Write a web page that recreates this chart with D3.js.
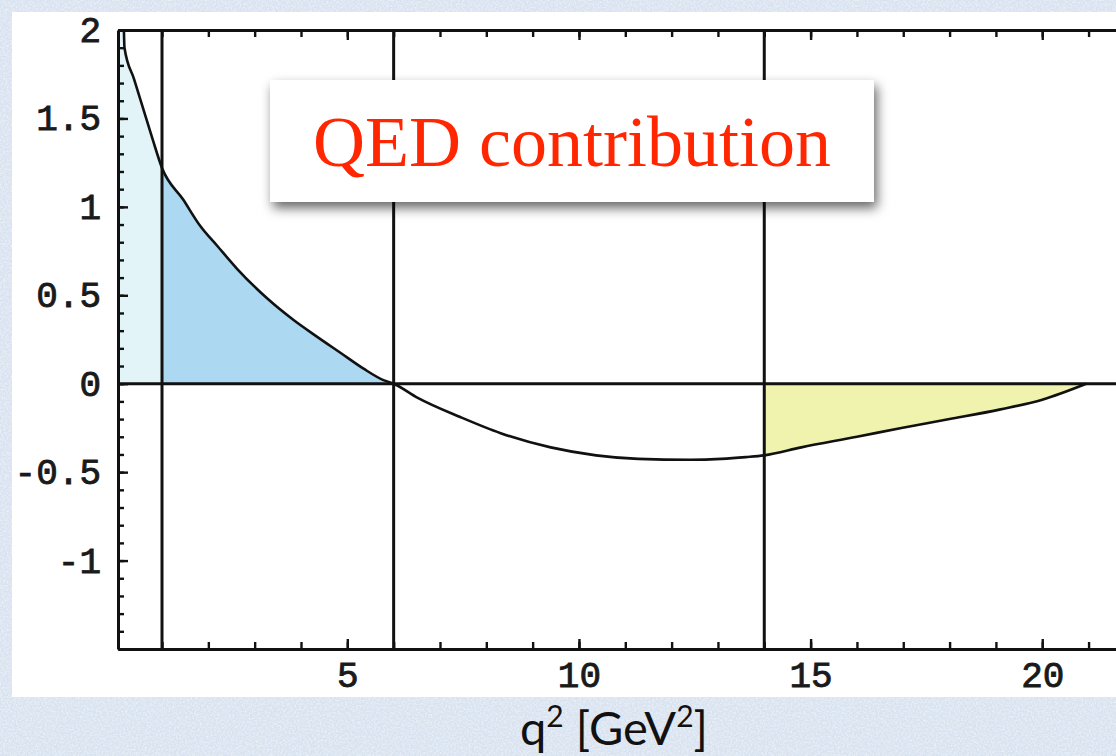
<!doctype html>
<html>
<head>
<meta charset="utf-8">
<style>
    body { margin: 0; background: #dde6f2; }
    svg { display: block; }
    .tick text { font-family: "Liberation Mono", "Courier New", monospace; font-size: 36px; fill: #1a1a1a; stroke: #1a1a1a; stroke-width: 0.9px; }
    .axis path, .axis line { stroke: #111; }
</style>
<script src="https://d3js.org/d3.v7.min.js"></script>
</head>
<body>
<svg width="1116" height="756"></svg>
<script>
    // curve: q^2 in GeV^2 and the QED term
    var qVals = [0.17, 0.19, 0.4, 0.6, 0.8, 1.0, 1.46, 1.83, 2.19, 2.62, 3.28, 3.84, 4.35, 4.85, 5.35, 5.78, 6.0,
                 6.52, 7.45, 8.31, 9.39, 10.37, 11.28, 12.4, 13.07, 13.6, 14.0, 14.8, 16.0, 16.96, 18.0, 19.1, 20.0, 20.95];
    var qedVals = [2.1, 1.90, 1.72, 1.55, 1.38, 1.22, 1.04, 0.89, 0.78, 0.65, 0.48, 0.36, 0.265, 0.175, 0.085, 0.02, 0,
                   -0.08, -0.19, -0.28, -0.36, -0.405, -0.425, -0.43, -0.425, -0.415, -0.405, -0.36, -0.30, -0.25, -0.20, -0.145, -0.09, 0];
    var xLabels = [5, 10, 15, 20];
    var yLabels = [2, 1.5, 1, 0.5, 0, -0.5, -1];
    var cuts = [1, 6, 14];   // vertical guide lines
    var title = "QED contribution";

    var data = qVals.map(function(q, i) { return { q: q, v: qedVals[i] }; });

    var svg = d3.select("svg");

    // paper texture
    var defs = svg.append("defs");
    var tex = defs.append("filter").attr("id", "paper").attr("x", 0).attr("y", 0).attr("width", "100%").attr("height", "100%");
    tex.append("feTurbulence").attr("type", "fractalNoise").attr("baseFrequency", 0.55).attr("numOctaves", 3).attr("seed", 3);
    tex.append("feColorMatrix").attr("type", "matrix")
       .attr("values", "0 0 0 0 1  0 0 0 0 1  0 0 0 0 1  0 0 0 -1.8 1.1");
    var shadow = defs.append("filter").attr("id", "shadow").attr("x", "-10%").attr("y", "-20%").attr("width", "130%").attr("height", "160%");
    shadow.append("feDropShadow").attr("dx", 3).attr("dy", 6).attr("stdDeviation", 6)
          .attr("flood-color", "#000").attr("flood-opacity", 0.6);

    svg.append("rect").attr("width", 1116).attr("height", 756).attr("fill", "#d9e3f0");
    svg.append("rect").attr("width", 1116).attr("height", 756).attr("filter", "url(#paper)").attr("opacity", 0.6);

    // white picture panel
    svg.append("rect").attr("x", 12).attr("y", 12).attr("width", 1104).attr("height", 685).attr("fill", "#fff");

    var pLeft = 118, pRight = 1121, pTop = 30, pBottom = 649;
    var x = d3.scaleLinear().domain([0.05, 21.7]).range([pLeft, pRight]);
    var y = d3.scaleLinear().domain([-1.5, 2]).range([pBottom, pTop]);

    defs.append("clipPath").attr("id", "plot")
        .append("rect").attr("x", pLeft).attr("y", pTop).attr("width", pRight - pLeft).attr("height", pBottom - pTop);

    var g = svg.append("g").attr("clip-path", "url(#plot)");

    function band(lo, hi) {
        return data.filter(function(d) { return d.q >= lo && d.q <= hi; });
    }
    var area = d3.area()
        .x(function(d) { return x(d.q); })
        .y0(y(0))
        .y1(function(d) { return y(d.v); })
        .curve(d3.curveMonotoneX);

    // fill from the axis to the first point
    var first = [{ q: 0.05, v: 2.5 }, { q: 0.17, v: 2.5 }].concat(band(0.17, 1));
    g.append("path").attr("d", area(first)).attr("fill", "#e3f4f8");
    g.append("path").attr("d", area(band(1, 6))).attr("fill", "#acd8f1");
    g.append("path").attr("d", area(band(14, 21))).attr("fill", "#eff3ad");

    // guide lines
    g.selectAll(".cut")
     .data(cuts)
     .enter().append("line")
     .attr("x1", function(d) { return x(d); })
     .attr("x2", function(d) { return x(d); })
     .attr("y1", pTop).attr("y2", pBottom)
     .attr("stroke", "#111").attr("stroke-width", 3);
    g.append("line")
     .attr("x1", pLeft).attr("x2", pRight)
     .attr("y1", y(0)).attr("y2", y(0))
     .attr("stroke", "#111").attr("stroke-width", 3);

    var line = d3.line()
        .x(function(d) { return x(d.q); })
        .y(function(d) { return y(d.v); })
        .curve(d3.curveMonotoneX);
    g.append("path").datum(data)
     .attr("d", line)
     .attr("fill", "none")
     .attr("stroke", "#111")
     .attr("stroke-width", 2.6);

    // axes: ticks point inward, Mathematica style
    var minorX = d3.range(1, 22);
    var minorY = d3.range(-15, 21).map(function(d) { return d / 10; });

    function styleAxis(sel) {
        sel.attr("class", "axis");
        sel.selectAll("path").attr("stroke-width", 3);
        sel.selectAll("line").attr("stroke-width", 2.4);
    }

    svg.append("g").attr("transform", "translate(0," + pBottom + ")")
       .call(d3.axisBottom(x).tickValues(minorX).tickSize(-7).tickSizeOuter(0).tickFormat(""))
       .call(styleAxis);
    svg.append("g").attr("transform", "translate(0," + pBottom + ")")
       .call(d3.axisBottom(x).tickValues(xLabels).tickSize(-10).tickSizeOuter(0).tickPadding(12))
       .call(styleAxis)
       .select(".domain").remove();

    svg.append("g").attr("transform", "translate(0," + pTop + ")")
       .call(d3.axisTop(x).tickValues(minorX).tickSize(-7).tickSizeOuter(0).tickFormat(""))
       .call(styleAxis);
    svg.append("g").attr("transform", "translate(0," + pTop + ")")
       .call(d3.axisTop(x).tickValues(xLabels).tickSize(-10).tickSizeOuter(0).tickFormat(""))
       .call(styleAxis)
       .select(".domain").remove();

    svg.append("g").attr("transform", "translate(" + pLeft + ",0)")
       .call(d3.axisLeft(y).tickValues(minorY).tickSize(-6).tickSizeOuter(0).tickFormat(""))
       .call(styleAxis);
    svg.append("g").attr("transform", "translate(" + pLeft + ",0)")
       .call(d3.axisLeft(y).tickValues(yLabels).tickSize(-10).tickSizeOuter(0).tickPadding(17)
             .tickFormat(function(d) { return String(d); }))
       .call(styleAxis)
       .select(".domain").remove();

    // callout
    var box = svg.append("g");
    box.append("rect")
       .attr("x", 270).attr("y", 80).attr("width", 604).attr("height", 122)
       .attr("fill", "#fff")
       .attr("filter", "url(#shadow)");
    box.append("text")
       .attr("x", 572).attr("y", 166)
       .attr("text-anchor", "middle")
       .attr("font-family", "'Liberation Serif', 'Times New Roman', serif")
       .attr("font-size", 72)
       .attr("fill", "#ff2600")
       .text(title);

    // x axis title
    var xt = svg.append("text")
       .attr("x", 614).attr("y", 745)
       .attr("text-anchor", "middle")
       .attr("font-family", "Lato, 'Open Sans', sans-serif")
       .attr("font-size", 47)
       .attr("fill", "#111");
    xt.append("tspan").text("q");
    xt.append("tspan").attr("font-size", 30).attr("dy", -18).text("2");
    xt.append("tspan").attr("dy", 18).text(" [GeV");
    xt.append("tspan").attr("font-size", 30).attr("dy", -18).text("2");
    xt.append("tspan").attr("dy", 18).text("]");
</script>
</body>
</html>
